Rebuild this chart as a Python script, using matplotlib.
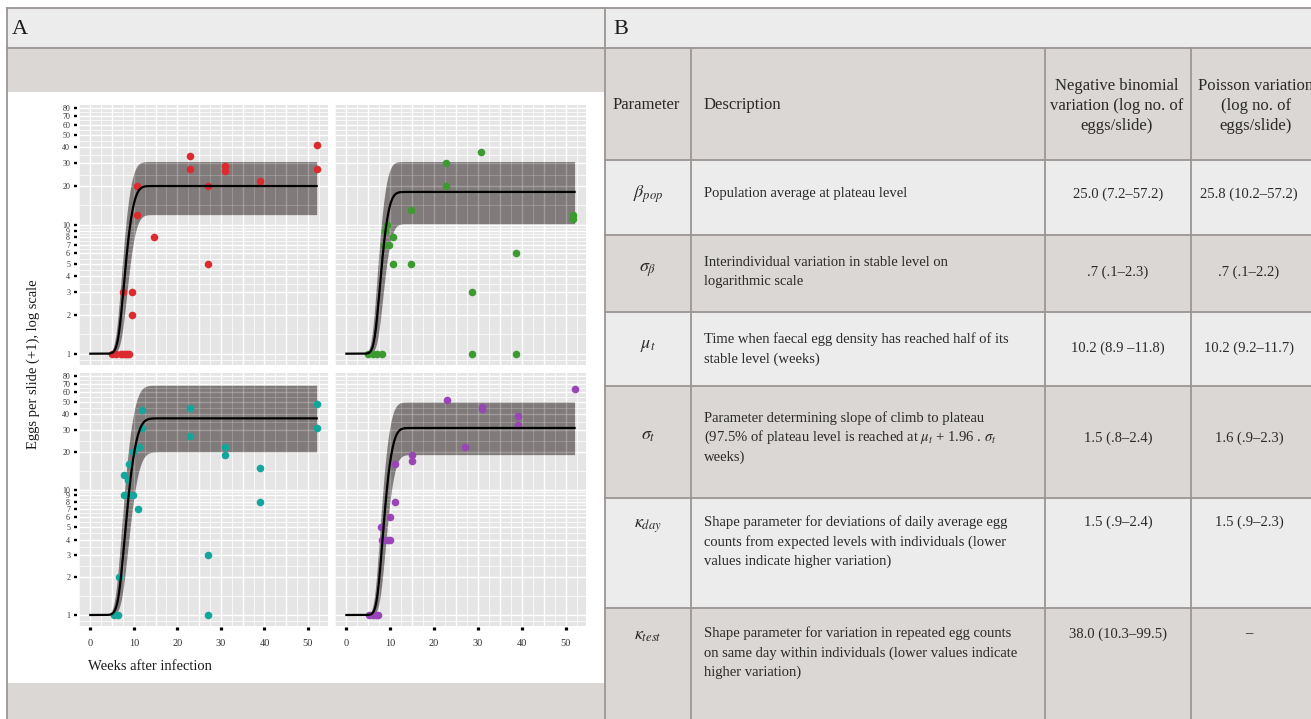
import math
import numpy as np
import matplotlib
matplotlib.use("Agg")
import matplotlib.pyplot as plt
from matplotlib.patches import Rectangle
from matplotlib.ticker import NullLocator

plt.rcParams['font.family'] = ['Liberation Serif', 'DejaVu Serif']
plt.rcParams['mathtext.fontset'] = 'stix'

# ---------------- data: panel A (weeks after infection, eggs per slide + 1) -------------
red_weeks = [5, 6, 7, 7.5, 8, 8.5, 9, 7.5, 9.6, 9.6, 10.7, 10.7, 14.7, 23, 23, 27, 27, 31, 31, 39, 52, 52]
red_vals = [1, 1, 1, 1, 1, 1, 1, 3, 3, 2, 20, 12, 8, 34, 27, 20, 5, 28.5, 26, 22, 42, 27]

green_weeks = [5, 6, 7, 8, 8.8, 9.2, 10.6, 8.5, 9.7, 10.6, 14.7, 14.7, 22.7, 22.7, 28.7, 28.7,
               30.7, 38.7, 38.7, 51.7, 51.7]
green_vals = [1, 1, 1, 1, 9, 10, 8, 7, 7, 5, 13, 5, 30, 20, 3, 1, 37, 6, 1, 12, 11]

teal_weeks = [5.5, 6.3, 6.7, 7.8, 8.8, 9.8, 10.9, 7.8, 8.6, 8.8, 9.8, 11.1, 11.8, 11.8,
              23, 23, 27, 27, 31, 31, 39, 39, 52, 52]
teal_vals = [1, 1, 2, 9, 9, 9, 7, 13, 12, 16, 20, 22, 31, 43,
             45, 27, 3, 1, 22, 19, 15, 8, 48, 31]

purple_weeks = [5.2, 6, 6.7, 7.3, 7.9, 8, 8.7, 9.4, 10, 9.9, 11, 11.1, 15, 15, 23, 27, 31, 31, 39, 39, 52]
purple_vals = [1, 1, 1, 1, 5, 4, 4, 4, 4, 6, 8, 16, 19, 17, 52, 22, 46, 44, 38.5, 33, 64]

facet_weeks = [red_weeks, green_weeks, teal_weeks, purple_weeks]
facet_vals = [red_vals, green_vals, teal_vals, purple_vals]
facet_colors = ['#dc2b2f', '#3d9a31', '#14a69c', '#9a45b6']

# fitted curve parameters (plateau, band, midpoint, slope)
plateau = [20, 18, 37, 31]
band_low = [12, 10.2, 20, 19]
band_high = [31, 31, 68, 50]
midpoint = [9.25, 9.0, 10.0, 9.9]
slope_sd = [1.35, 1.25, 1.55, 1.3]

y_ticks = [1, 2, 3, 4, 5, 6, 7, 8, 9, 10, 20, 30, 40, 50, 60, 70, 80]
x_ticks = [0, 10, 20, 30, 40, 50]

# ---------------- data: panel B table ----------------
col_headers = ['Parameter', 'Description',
               ['Negative binomial', 'variation (log no. of', 'eggs/slide)'],
               ['Poisson variation', '(log no. of', 'eggs/slide)']]
param_symbols = [r'$\beta_{pop}$', r'$\sigma_{\beta}$', r'$\mu_t$', r'$\sigma_t$',
                 r'$\kappa_{day}$', r'$\kappa_{test}$']
descriptions = [
    ['Population average at plateau level'],
    ['Interindividual variation in stable level on', 'logarithmic scale'],
    ['Time when faecal egg density has reached half of its', 'stable level (weeks)'],
    ['Parameter determining slope of climb to plateau',
     r'(97.5% of plateau level is reached at $\mu_t$ + 1.96 . $\sigma_t$', 'weeks)'],
    ['Shape parameter for deviations of daily average egg',
     'counts from expected levels with individuals (lower', 'values indicate higher variation)'],
    ['Shape parameter for variation in repeated egg counts',
     'on same day within individuals (lower values indicate', 'higher variation)'],
]
negbin = ['25.0 (7.2–57.2)', '.7 (.1–2.3)', '10.2 (8.9 –11.8)', '1.5 (.8–2.4)',
          '1.5 (.9–2.4)', '38.0 (10.3–99.5)']
poisson = ['25.8 (10.2–57.2)', '.7 (.1–2.2)', '10.2 (9.2–11.7)', '1.6 (.9–2.3)',
           '1.5 (.9–2.3)', '–']

# ---------------- figure ----------------
W, H = 1311, 719
fig = plt.figure(figsize=(W / 100, H / 100), dpi=100)
fig.patch.set_facecolor('white')

bg = fig.add_axes([0, 0, 1, 1], zorder=0)
bg.set_xlim(0, W)
bg.set_ylim(H, 0)
bg.axis('off')

LIGHT = '#ececec'
GRAY = '#dad7d4'
LINE = '#9b9593'

bg.add_patch(Rectangle((7, 8), W - 7, 40, fc=LIGHT, ec='none'))
bg.add_patch(Rectangle((7, 48), 598, 44, fc=GRAY, ec='none'))
bg.add_patch(Rectangle((7, 92), 598, 591, fc='white', ec='none'))
bg.add_patch(Rectangle((7, 683), 598, 36, fc=GRAY, ec='none'))

row_edges = [48, 160, 235, 312, 386, 498, 608, 719]
row_cols = [GRAY, LIGHT, GRAY, LIGHT, GRAY, LIGHT, GRAY]
for i, c in enumerate(row_cols):
    bg.add_patch(Rectangle((605, row_edges[i]), W - 605, row_edges[i + 1] - row_edges[i],
                           fc=c, ec='none'))

lw = 1.3
bg.plot([7, W], [8, 8], color=LINE, lw=lw)
bg.plot([7, W], [48, 48], color=LINE, lw=lw)
for y in row_edges[1:-1]:
    bg.plot([605, W], [y, y], color=LINE, lw=lw)
bg.plot([7, 7], [8, H], color=LINE, lw=lw)
bg.plot([605, 605], [8, H], color=LINE, lw=lw)
for x in [691, 1045, 1191]:
    bg.plot([x, x], [48, H], color=LINE, lw=lw)

bg.text(12, 29, 'A', fontsize=16, va='center', ha='left', color='#1a1a1a')
bg.text(613, 29, 'B', fontsize=16, va='center', ha='left', color='#1a1a1a')

# table text
FS = 10.5
FSH = 12
TC = '#2a2a2a'
LS = 19.8
bg.text(613, 105, col_headers[0], fontsize=FSH, va='center', ha='left', color=TC)
bg.text(704, 105, col_headers[1], fontsize=FSH, va='center', ha='left', color=TC)
for k, ln in enumerate(col_headers[2]):
    bg.text(1117, 86 + k * 20, ln, fontsize=FSH, va='center', ha='center', color=TC)
for k, ln in enumerate(col_headers[3]):
    bg.text(1256, 86 + k * 20, ln, fontsize=FSH, va='center', ha='center', color=TC)

desc_y0 = [194, 262, 339, 418, 522, 633]
val_y = [194, 272, 348, 438, 522, 634]
sym_y = [194, 270, 346, 436, 526, 635]
for i in range(len(param_symbols)):
    bg.text(648, sym_y[i], param_symbols[i], fontsize=13, va='center', ha='center', color=TC)
    for k, ln in enumerate(descriptions[i]):
        bg.text(704, desc_y0[i] + k * LS, ln, fontsize=FS, va='center', ha='left', color=TC)
    bg.text(1118, val_y[i], negbin[i], fontsize=FS, va='center', ha='center', color=TC)
    bg.text(1249, val_y[i], poisson[i], fontsize=FS, va='center', ha='center', color=TC)

bg.text(33, 364, 'Eggs per slide (+1), log scale', rotation=90, fontsize=10.5,
        va='center', ha='center', color='#1a1a1a')
bg.text(88, 666, 'Weeks after infection', fontsize=10.5, va='center', ha='left', color='#1a1a1a')

# ---------------- facets ----------------
def px_rect(x0, y0, x1, y1):
    return [x0 / W, 1 - y1 / H, (x1 - x0) / W, (y1 - y0) / H]

panels = [(79, 105, 328, 365), (335, 105, 586, 365), (79, 373, 328, 626), (335, 373, 586, 626)]

def ncdf(z):
    return np.array([0.5 * (1 + math.erf(v / math.sqrt(2))) for v in z])

t = np.linspace(0, 52, 500)
ymaj = np.array(y_ticks, dtype=float)
ymin_lines = np.sqrt(ymaj[:-1] * ymaj[1:])

for i, rect in enumerate(panels):
    ax = fig.add_axes(px_rect(*rect), zorder=1)
    ax.set_facecolor('#e5e5e5')
    ax.set_yscale('log')
    ax.set_xlim(-2.6, 54.6)
    ax.set_ylim(0.817, 85.1)
    for z, a in [(0.3, 1.0), (1.5, 0.18)]:
        for y in ymaj:
            ax.axhline(y, color='white', lw=1.0, zorder=z, alpha=a)
        for y in list(ymin_lines) + [0.9, 90]:
            ax.axhline(y, color='white', lw=0.55, zorder=z, alpha=a)
        for x in np.arange(0, 55.1, 5):
            ax.axvline(x, color='white', lw=1.0, zorder=z, alpha=a)
        for x in np.arange(-2.5, 55.1, 5):
            ax.axvline(x, color='white', lw=0.55, zorder=z, alpha=a)

    mu, sd = midpoint[i], slope_sd[i]
    upper = 1 + (band_high[i] - 1) * ncdf((t - (mu - 0.4)) / sd)
    lower = 1 + (band_low[i] - 1) * ncdf((t - (mu + 0.4)) / sd)
    line = 1 + (plateau[i] - 1) * ncdf((t - mu) / sd)
    ax.fill_between(t, lower, upper, color='#3d3533', alpha=0.6, lw=0, zorder=1)
    ax.plot(t, line, color='black', lw=1.6, zorder=3)
    ax.scatter(facet_weeks[i], facet_vals[i], s=30, color=facet_colors[i], lw=0, zorder=2.5)

    for sp in ax.spines.values():
        sp.set_color('none')
    ax.spines['left'].set_position(('outward', 1.6))
    ax.spines['bottom'].set_position(('outward', 0.7))

    ax.yaxis.set_minor_locator(NullLocator())
    ax.xaxis.set_minor_locator(NullLocator())
    ax.set_yticks(y_ticks)
    ax.set_yticklabels([str(v) for v in y_ticks])
    ax.set_xticks(x_ticks)
    ax.set_xticklabels([str(v) for v in x_ticks])
    ax.tick_params(axis='y', which='major', length=2.4, width=1.7, color='black',
                   pad=2.4, labelsize=5.8, labelcolor='#333333')
    ax.tick_params(axis='x', which='major', length=2.0, width=2.3, color='black',
                   pad=7, labelsize=7.5, labelcolor='#333333')
    if i in (1, 3):
        ax.tick_params(axis='y', left=False, labelleft=False)
    if i in (0, 1):
        ax.tick_params(axis='x', bottom=False, labelbottom=False)

fig.savefig('out.png', dpi=100, facecolor='white')
